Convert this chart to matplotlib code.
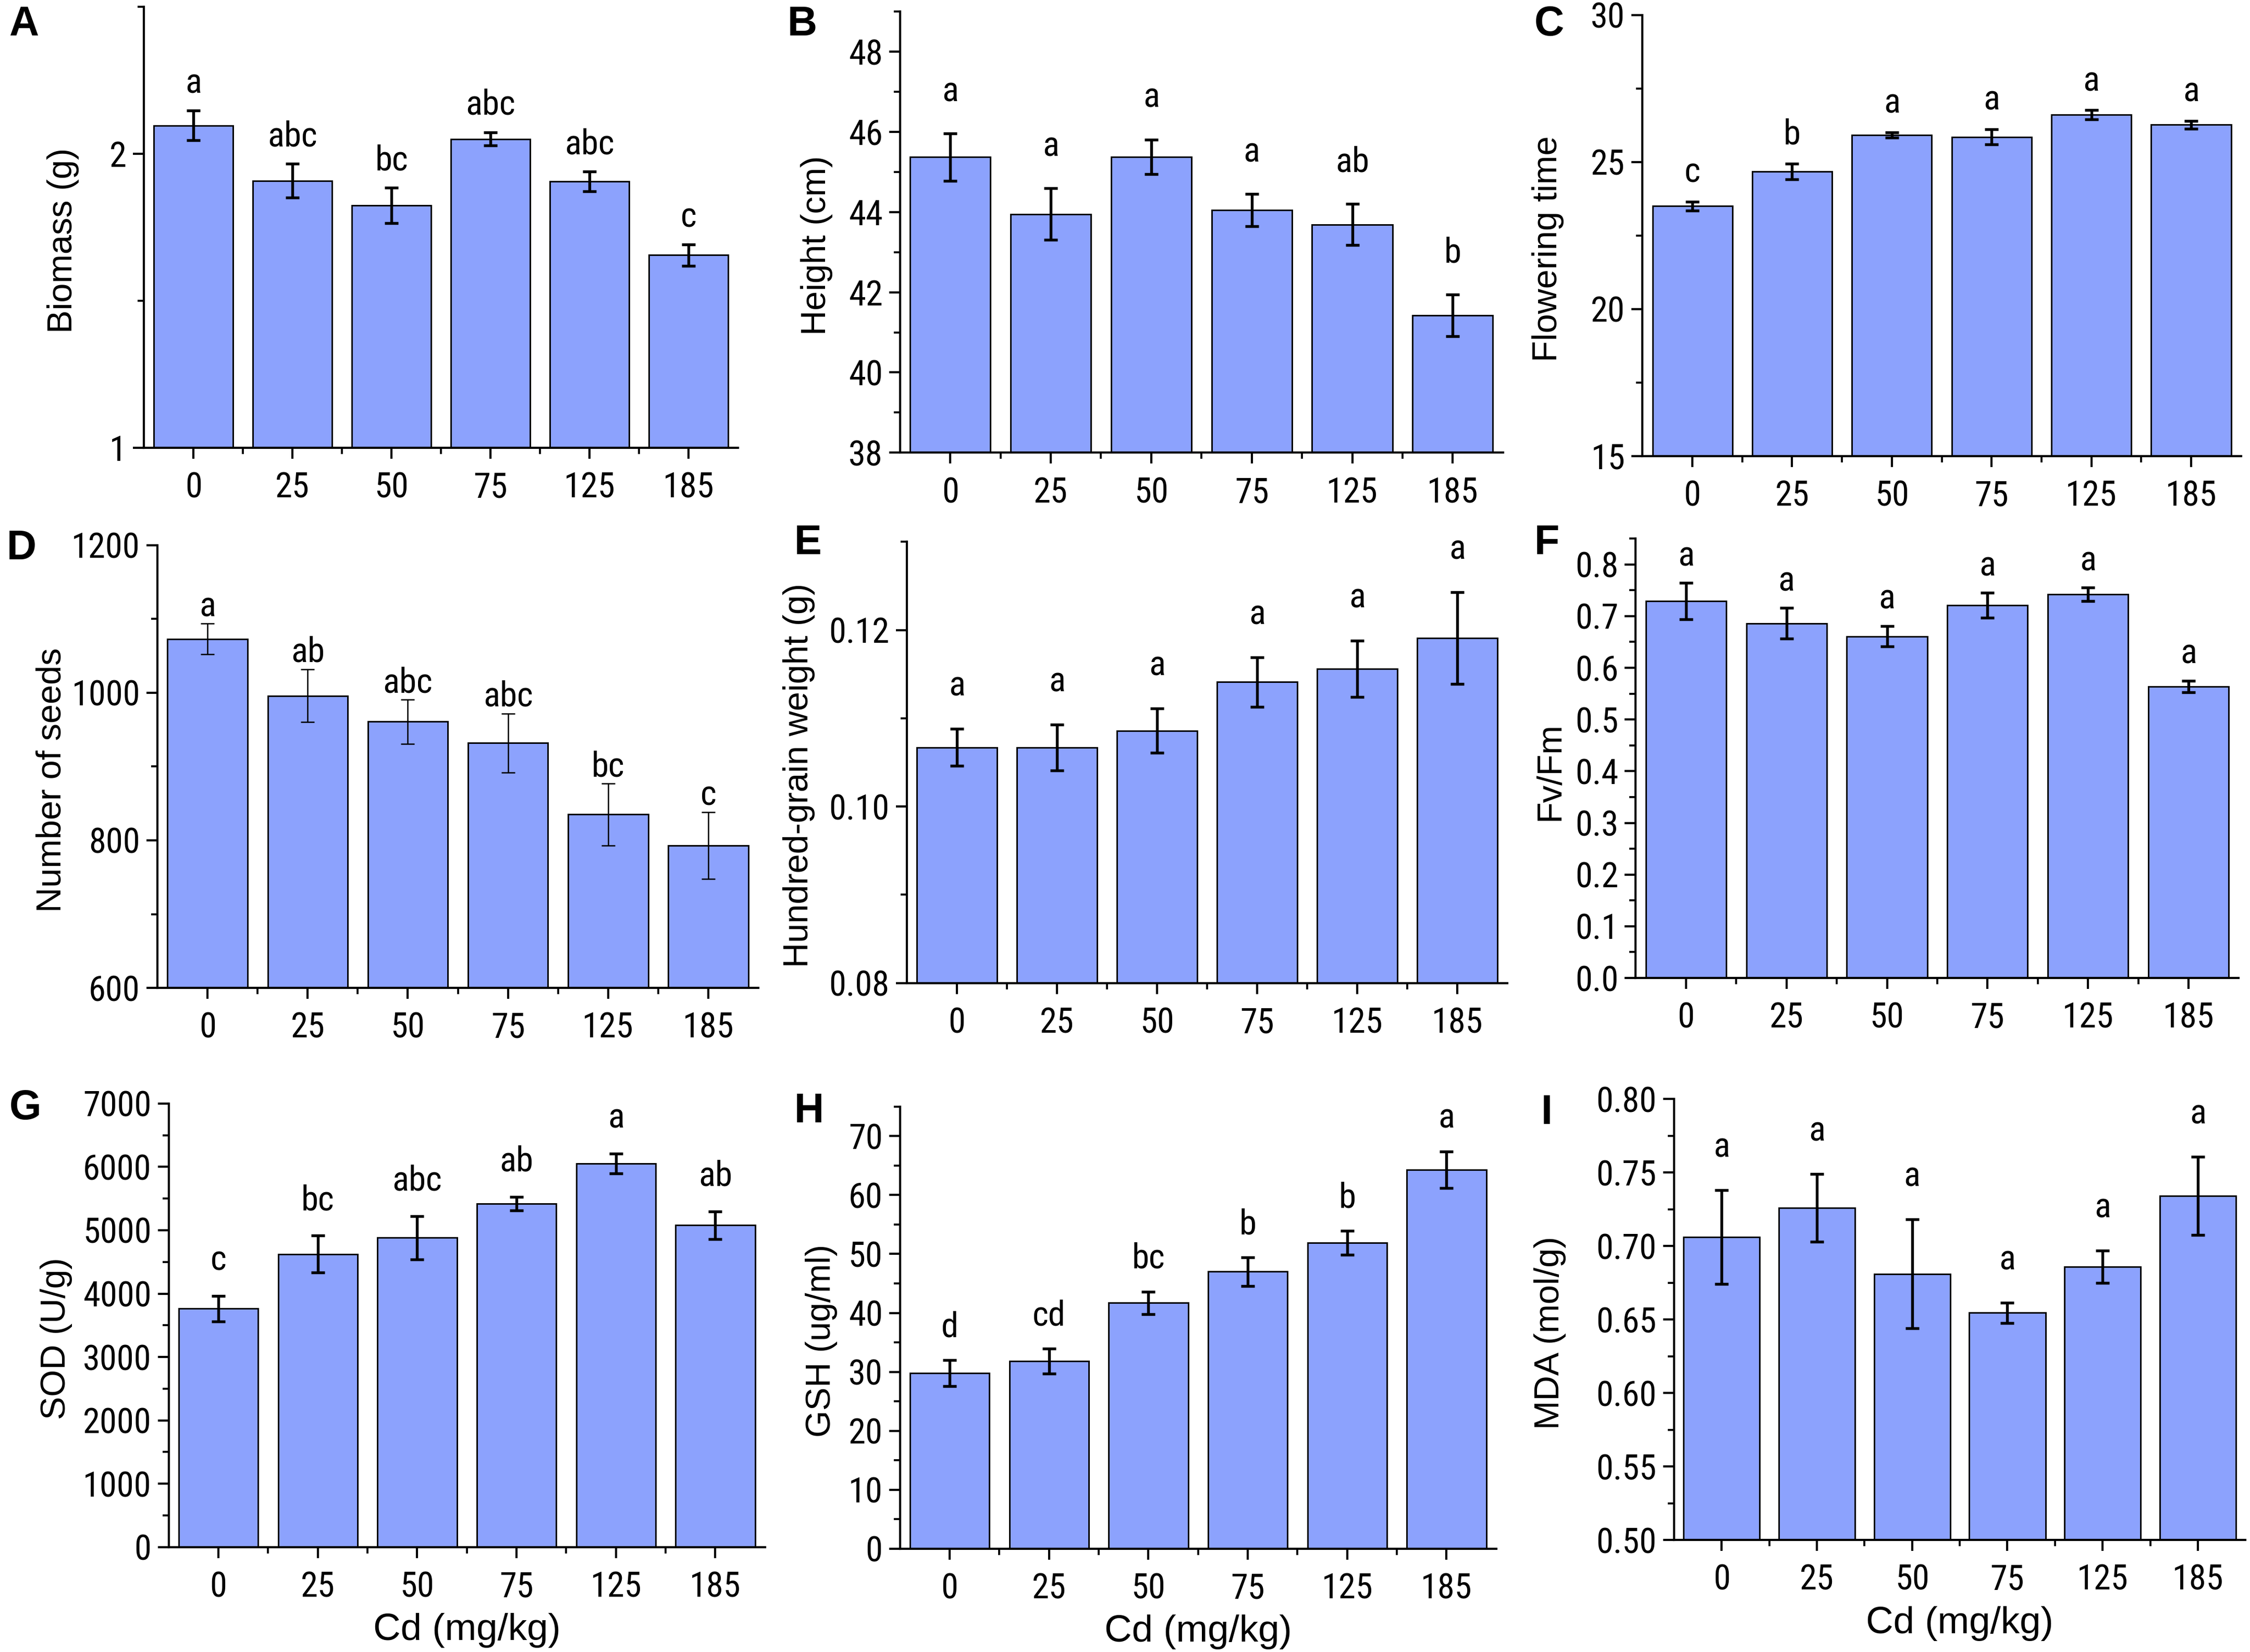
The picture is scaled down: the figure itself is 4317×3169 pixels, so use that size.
import numpy as np
import matplotlib
matplotlib.use("Agg")
import matplotlib.pyplot as plt
from matplotlib.ticker import MultipleLocator, FormatStrFormatter

# ----------------------------
# Data
# ----------------------------
doses = ["0", "25", "50", "75", "125", "185"]

biomass = [2.096, 1.908, 1.824, 2.050, 1.905, 1.655]
biomass_err = [0.050, 0.058, 0.060, 0.023, 0.034, 0.036]
biomass_sig = ["a", "abc", "bc", "abc", "abc", "c"]

height = [45.37, 43.95, 45.38, 44.05, 43.69, 41.42]
height_err = [0.59, 0.64, 0.43, 0.40, 0.51, 0.52]
height_sig = ["a", "a", "a", "a", "ab", "b"]

flowering = [23.50, 24.67, 25.92, 25.85, 26.60, 26.26]
flowering_err = [0.15, 0.27, 0.09, 0.26, 0.16, 0.13]
flowering_sig = ["c", "b", "a", "a", "a", "a"]

seeds = [1073, 996, 961, 932, 835, 793]
seeds_err = [21, 36, 30, 40, 42, 45]
seeds_sig = ["a", "ab", "abc", "abc", "bc", "c"]

grain = [0.1067, 0.1067, 0.1086, 0.1141, 0.1156, 0.1191]
grain_err = [0.0021, 0.0026, 0.0025, 0.0028, 0.0032, 0.0052]
grain_sig = ["a", "a", "a", "a", "a", "a"]

fvfm = [0.729, 0.686, 0.661, 0.721, 0.742, 0.564]
fvfm_err = [0.035, 0.030, 0.020, 0.024, 0.013, 0.011]
fvfm_sig = ["a", "a", "a", "a", "a", "a"]

sod = [3763, 4624, 4883, 5418, 6050, 5081]
sod_err = [200, 290, 343, 108, 157, 217]
sod_sig = ["c", "bc", "abc", "ab", "a", "ab"]

gsh = [29.8, 31.8, 41.7, 47.0, 51.9, 64.3]
gsh_err = [2.2, 2.1, 1.9, 2.4, 2.0, 3.1]
gsh_sig = ["d", "cd", "bc", "b", "b", "a"]

mda = [0.706, 0.726, 0.681, 0.6545, 0.686, 0.734]
mda_err = [0.032, 0.023, 0.037, 0.007, 0.011, 0.0265]
mda_sig = ["a", "a", "a", "a", "a", "a"]

BAR_COLOR = "#8ca2fd"
NARROW = ["Roboto Condensed", "Liberation Sans", "DejaVu Sans"]
WIDE = ["Liberation Sans", "DejaVu Sans"]

# (letter, values, errors, letters, ylabel, ylim, major, minor, fmt,
#  axes rect, letter pos, label offset, error width, ylabel x in figure)
panels = [
    ("A", biomass, biomass_err, biomass_sig, "Biomass (g)", (1, 2.5), 1, 0.5, "%d",
     [0.064, 0.729, 0.264, 0.267], (0.004, 0.985), 0.040, 1.3, 0.028),
    ("B", height, height_err, height_sig, "Height (cm)", (38, 49), 2, 1, "%d",
     [0.400, 0.726, 0.268, 0.267], (0.350, 0.985), 0.073, 1.3, 0.363),
    ("C", flowering, flowering_err, flowering_sig, "Flowering time", (15, 30), 5, 2.5, "%d",
     [0.730, 0.724, 0.266, 0.267], (0.682, 0.985), 0.044, 1.3, 0.688),
    ("D", seeds, seeds_err, seeds_sig, "Number of seeds", (600, 1200), 200, 100, "%d",
     [0.070, 0.402, 0.267, 0.268], (0.003, 0.668), 0.016, 0.6, 0.023),
    ("E", grain, grain_err, grain_sig, "Hundred-grain weight (g)", (0.08, 0.13), 0.02, 0.01, "%.2f",
     [0.403, 0.405, 0.267, 0.267], (0.353, 0.671), 0.075, 1.3, 0.355),
    ("F", fvfm, fvfm_err, fvfm_sig, "Fv/Fm", (0, 0.85), 0.1, 0.05, "%.1f",
     [0.727, 0.408, 0.268, 0.266], (0.682, 0.671), 0.039, 1.3, 0.689),
    ("G", sod, sod_err, sod_sig, "SOD (U/g)", (0, 7000), 1000, 500, "%d",
     [0.075, 0.0635, 0.265, 0.2685], (0.004, 0.329), 0.058, 1.3, 0.025),
    ("H", gsh, gsh_err, gsh_sig, "GSH (ug/ml)", (0, 75), 10, 5, "%d",
     [0.400, 0.0626, 0.265, 0.2675], (0.353, 0.327), 0.053, 1.3, 0.365),
    ("I", mda, mda_err, mda_sig, "MDA (mol/g)", (0.5, 0.8), 0.05, 0.025, "%.2f",
     [0.744, 0.0678, 0.254, 0.267], (0.685, 0.326), 0.075, 1.3, 0.689),
]


def draw_panel(fig, spec, show_xlabel):
    (letter, vals, errs, sig, ylabel, ylim, major, minor, fmt,
     rect, lpos, loff, elw, ylab_x) = spec
    ax = fig.add_axes(rect)
    x = np.arange(len(doses))
    ax.bar(x, vals, width=0.8, color=BAR_COLOR, edgecolor="black",
           linewidth=0.7, zorder=2)
    ax.errorbar(x, vals, yerr=errs, fmt="none", ecolor="black",
                elinewidth=elw, capsize=3.2, capthick=elw, zorder=3)

    span = ylim[1] - ylim[0]
    for xi, v, e, s in zip(x, vals, errs, sig):
        ax.text(xi, v + e + loff * span, s, ha="center", va="baseline",
                fontsize=16, family=NARROW)

    ax.set_xlim(-0.5, 5.5)
    ax.set_ylim(*ylim)
    ax.set_xticks(x)
    ax.set_xticks(x[:-1] + 0.5, minor=True)
    ax.set_xticklabels(doses)
    ax.yaxis.set_major_locator(MultipleLocator(major))
    ax.yaxis.set_minor_locator(MultipleLocator(minor))
    ax.yaxis.set_major_formatter(FormatStrFormatter(fmt))

    for side in ("top", "right"):
        ax.spines[side].set_visible(False)
    for side in ("left", "bottom"):
        ax.spines[side].set_linewidth(1.0)

    ax.tick_params(which="major", length=5, width=1.0, labelsize=16, pad=3)
    ax.tick_params(which="minor", length=2.8, width=0.9)
    ax.tick_params(axis="x", which="major", pad=6)
    for lab in ax.get_xticklabels() + ax.get_yticklabels():
        lab.set_family(NARROW)

    ax.set_ylabel(ylabel, fontsize=16, family=WIDE)
    ax.yaxis.set_label_coords((ylab_x - rect[0]) / rect[2], 0.47)
    ax.yaxis.label.set_verticalalignment("center")
    if show_xlabel:
        ax.set_xlabel("Cd (mg/kg)", fontsize=17.5, family=WIDE, labelpad=4)

    fig.text(lpos[0], lpos[1], letter, fontsize=19, fontweight="bold",
             family=WIDE, va="center", ha="left")
    return ax


def main():
    fig = plt.figure(figsize=(4317 / 300, 3169 / 300), dpi=300)
    for i, spec in enumerate(panels):
        draw_panel(fig, spec, show_xlabel=(i >= 6))
    fig.savefig("out.png", dpi=300, facecolor="white")


if __name__ == "__main__":
    main()
